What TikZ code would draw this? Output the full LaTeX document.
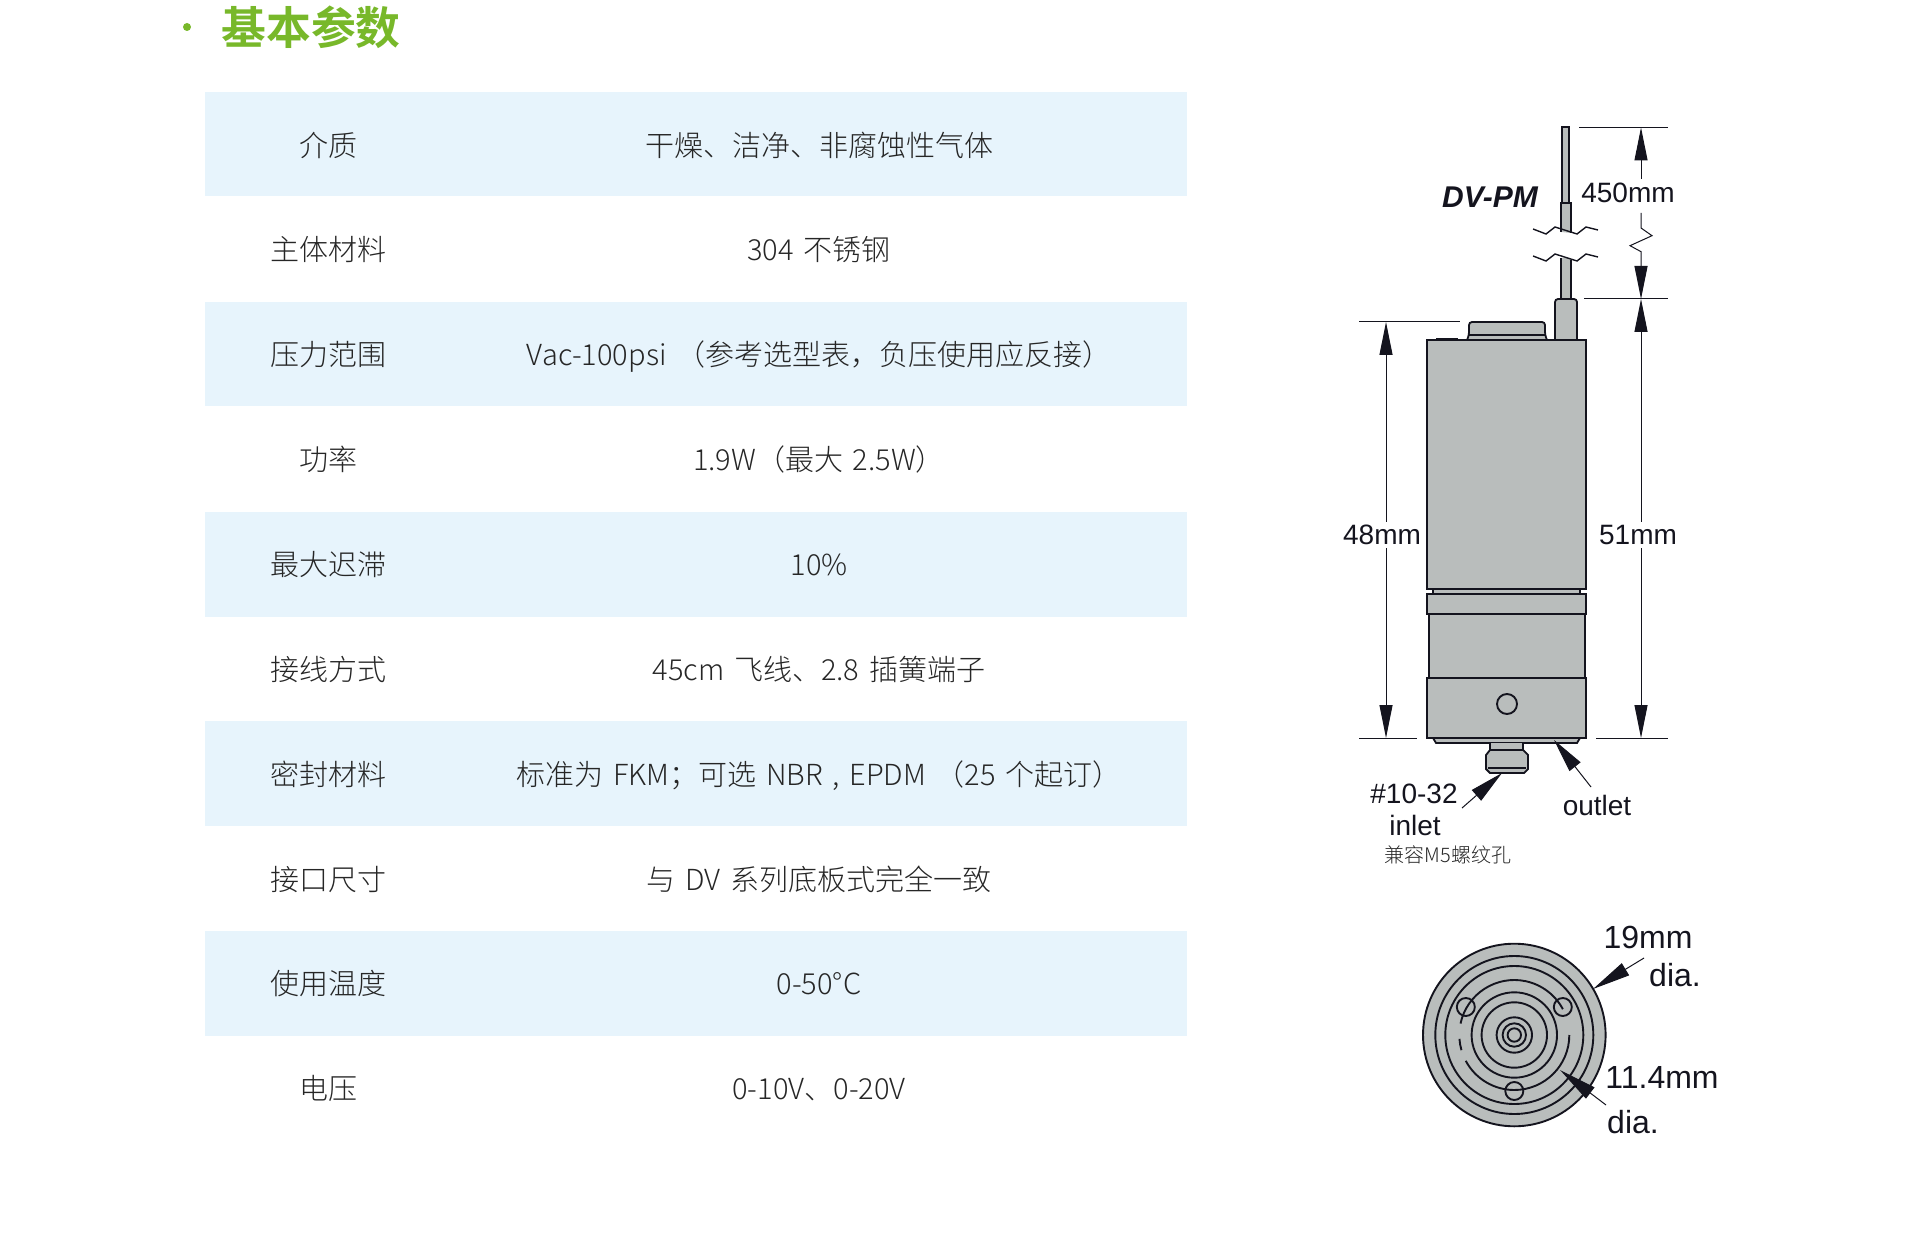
\documentclass[tikz,border=0pt]{standalone}
\usepackage{fontspec}
\setmainfont{Noto Sans CJK SC Light}
\newfontfamily\headfont{Noto Sans CJK SC Bold}
\newfontfamily\labelfont{Liberation Sans}
\usetikzlibrary{arrows.meta,calc}
\definecolor{bandblue}{HTML}{E7F4FC}
\definecolor{headgreen}{HTML}{78B82A}
\definecolor{bodygray}{HTML}{B9BDBC}
\definecolor{inkdark}{HTML}{14141E}
\newcommand\rowfont{\fontsize{14.5}{17}\selectfont\spaceskip.33em\relax}
\tikzset{
  dimtip/.tip={Triangle[length=16.5pt,width=6.5pt]},
  leadtip/.tip={Triangle[length=17pt,width=7pt]},
  endtip/.tip={Triangle[length=19pt,width=7pt]},
  rowband/.style={fill=bandblue},
  keytext/.style={font=\rowfont,text=black!85,anchor=center,inner sep=0pt,text height=12pt,text depth=2.5pt},
  valtext/.style={keytext},
  body/.style={draw=inkdark,line width=.9pt,fill=bodygray},
  ring/.style={draw=inkdark,line width=.95pt},
  dimline/.style={draw=inkdark,line width=.5pt},
  dimlabel/.style={font=\labelfont\fontsize{14}{16}\selectfont,text=inkdark,inner sep=1.5pt},
  leadlabel/.style={font=\labelfont\fontsize{16}{18}\selectfont,text=inkdark,inner sep=1pt}
}
\begin{document}
\begin{tikzpicture}[x=0.5pt,y=-0.5pt]
  \useasboundingbox (0,0) rectangle (1920,1234);

  % Heading
  \fill[headgreen] (187,27) circle (4);
  \node[anchor=west,inner sep=0pt,text=headgreen,font=\headfont\fontsize{22.4}{24}\selectfont] (heading) at (221,27) {基本参数};

  % Table
  \foreach \bandy in {92,302,512,721,931}
    \fill[rowband] (205,\bandy) rectangle (1187,\bandy+104.5);
  \foreach \rowy/\rowkey/\rowval [count=\i] in {
      147/介质/干燥、洁净、非腐蚀性气体,
      251.5/主体材料/304 不锈钢,
      356.5/压力范围/Vac-100psi （参考选型表，负压使用应反接）,
      461.5/功率/1.9W（最大 2.5W）,
      566/最大迟滞/10\%,
      671/接线方式/45cm 飞线、2.8 插簧端子,
      775.5/密封材料/{标准为 FKM；可选 NBR , EPDM （25 个起订）},
      880.5/接口尺寸/与 DV 系列底板式完全一致,
      985/使用温度/0-50°C,
      1090/电压/0-10V、0-20V}{
    \node[keytext] (key\i) at (328,\rowy) {\rowkey};
    \node[valtext] (val\i) at (819,\rowy) {\rowval};
  }

  % Side view: capillary, fitting, cap
  \draw[body] (1562,203) -- (1562,127) -- (1569,127) -- (1569,203) -- cycle;
  \draw[body] (1561,232) -- (1561,203) -- (1571,203) -- (1571,233);
  \fill[bodygray] (1561.4,258) rectangle (1570.6,299);
  \draw[ring] (1561,258) -- (1561,299) (1571,260) -- (1571,299);
  \draw[dimline,line width=.7pt] (1533,229) -- (1546,234) -- (1555,227) -- (1577,234) -- (1586,227) -- (1598,230);
  \draw[dimline,line width=.7pt] (1533,256) -- (1546,261) -- (1555,254) -- (1577,261) -- (1586,254) -- (1598,257);
  \draw[body,rounded corners=1.5pt] (1555,340) -- (1555,299) -- (1577,299) -- (1577,340);
  \draw[body,rounded corners=1.5pt] (1467,340) -- (1469,335) -- (1469,322) -- (1545,322) -- (1545,335) -- (1547,340);
  \draw[ring] (1469,335) -- (1545,335);
  \fill[inkdark] (1436,340) rectangle (1458,338);

  % Side view: body stack
  \draw[body] (1433,589) rectangle (1580,594);
  \draw[body] (1427,340) rectangle (1586,589);
  \draw[body] (1429,614) rectangle (1585,678);
  \draw[body] (1427,594) rectangle (1586,614);
  \draw[body] (1433,738) -- (1436,743) -- (1577,743) -- (1580,738);
  \draw[body] (1490,743) -- (1490,750) -- (1523,750) -- (1523,743);
  \draw[body] (1490,750) -- (1486,755) -- (1486,769) -- (1490,773) -- (1524,773) -- (1528,769) -- (1528,755) -- (1523,750) -- cycle;
  \draw[ring] (1488,768) -- (1526,768);
  \draw[body] (1427,678) rectangle (1586,738);
  \draw[ring] (1507,704) circle[radius=10];

  % Dimension lines, 450mm
  \coordinate (wiretop) at (1641,127.5);
  \coordinate (wirebot) at (1641,299);
  \coordinate (housebot) at (1641,738);
  \coordinate (captop) at (1386,322);
  \coordinate (capbot) at (1386,738);
  \draw[dimline] (1579,127.5) -- (1668,127.5);
  \draw[dimline] (1584,299) -- (1668,299);
  \draw[dimline] (1596,738) -- (1668,738);
  \draw[dimline] (1359,322) -- (1460,322);
  \draw[dimline] (1359,738) -- (1417,738);
  \node[dimlabel] (wirelen) at (1628,193) {450mm};
  \draw[dimline,-dimtip] (1641,179) -- (wiretop);
  \draw[dimline,-dimtip] (1641,213) -- (1641,228) -- (1652,235.7) -- (1630,245.7) -- (1641,251.7) -- (wirebot);

  % 51mm and 48mm
  \node[dimlabel] (bodylen) at (1638,535) {51mm};
  \node[dimlabel] (houselen) at (1382,535) {48mm};
  \draw[dimline,-dimtip] (bodylen.north -| wirebot) -- (wirebot);
  \draw[dimline,-dimtip] (bodylen.south -| wirebot) -- (housebot);
  \draw[dimline,-dimtip] (houselen.north -| captop) -- (captop);
  \draw[dimline,-dimtip] (houselen.south -| captop) -- (capbot);

  % Side view labels
  \node[font=\labelfont\bfseries\itshape\fontsize{15}{17}\selectfont,text=inkdark,inner sep=0pt] (model) at (1490,197) {DV-PM};
  \node[dimlabel] (portsize) at (1414,794) {\#10-32};
  \node[dimlabel] (inlet) at (1415,825) {inlet};
  \node[font=\fontsize{10}{12}\selectfont,text=black!85,inner sep=0pt] (m5note) at (1448,855) {兼容M5螺纹孔};
  \node[dimlabel] (outlet) at (1597,805) {outlet};
  \coordinate (inlettip) at (1502,773);
  \coordinate (outlettip) at (1554,740);
  \draw[dimline,-leadtip] (1462,808) -- (inlettip);
  \draw[dimline,-leadtip] (1591,787) -- (outlettip);

  % End view
  \coordinate (hub) at (1514.3,1035);
  \fill[bodygray] (hub) circle[radius=91.3];
  \foreach \ringr in {91.3,79,69,42.7,32.7,17.7,11.7,6.7}
    \draw[ring] (hub) circle[radius=\ringr];
  \draw[ring] ($(hub)+(192:55)$) arc[start angle=192,end angle=332,radius=55];
  \draw[ring] ($(hub)+(0:55)$) arc[start angle=0,end angle=152,radius=55];
  \draw[ring] ($(hub)+(164:55)$) arc[start angle=164,end angle=176,radius=55];
  \foreach \holea in {90,210,330}
    \draw[ring] ($(hub)+(\holea:56)$) circle[radius=9];
  \node[leadlabel] (outerdia) at (1648,937) {19mm};
  \node[leadlabel] (outerword) at (1675,975) {dia.};
  \node[leadlabel] (innerdia) at (1662,1077) {11.4mm};
  \node[leadlabel] (innerword) at (1633,1122) {dia.};
  \coordinate (outertip) at (1593,989);
  \coordinate (innertip) at (1560,1070);
  \draw[dimline,-endtip] (1644,958) -- (outertip);
  \draw[dimline,-endtip] (1606,1105) -- (innertip);
\end{tikzpicture}
\end{document}
